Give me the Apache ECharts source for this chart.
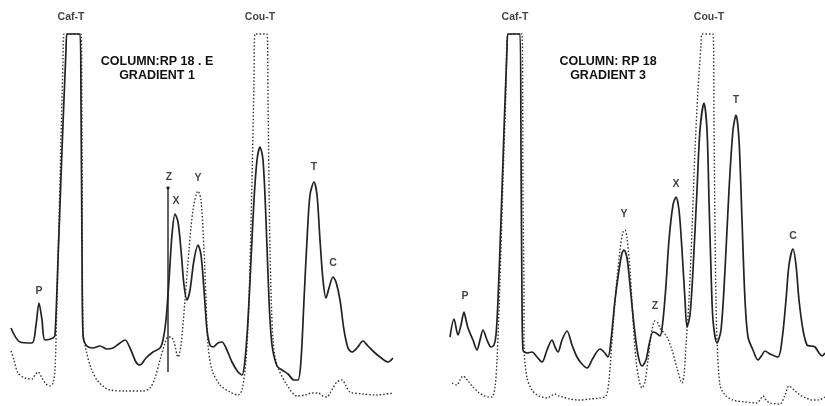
<!DOCTYPE html>
<html lang="en">
<head>
  <meta charset="UTF-8">
  <script src="https://cdn.jsdelivr.net/npm/echarts@6/dist/echarts.min.js"></script>
  <style>
    html, body { margin: 0; padding: 0; background: #fff; }
    #container { width: 825px; height: 406px; }
  </style>
</head>
<body>
  <div id="container"></div>
  <script>
    // retention (arbitrary scan units) vs. detector response
    var grad1Solid = [
      [11,72],[20,58],[32,57],[36,75],[39,97],[42,80],[45,60],[53,62],[55,65],[58,140],[62,250],[66,350],[67,366],
      [80,366],[81,300],[82,150],[83,65],[86,55],[93,52],[100,54],[107,51],[113,52],[120,57],[125,60],[130,52],
      [136,38],[140,35],[146,42],[153,48],[160,52],[163,60],[166,80],[169,120],[172,165],[175,186],[178,178],
      [181,150],[184,115],[187,100],[190,110],[194,140],[198,155],[201,145],[204,110],[207,70],[210,55],[213,53],
      [218,57],[222,58],[226,52],[232,38],[238,28],[242,25],[245,40],[248,80],[251,140],[254,200],[257,240],
      [260,253],[263,240],[266,180],[269,100],[272,55],[277,34],[282,30],[288,26],[294,20],[298,20],[301,40],
      [304,100],[307,160],[310,205],[314,218],[317,205],[320,160],[323,120],[326,102],[329,112],[333,123],
      [336,118],[340,100],[344,70],[348,52],[352,48],[357,52],[363,59],[368,54],[374,48],[380,43],[388,38],[393,42]
    ];
    var grad1Dotted = [
      [11,49],[14,40],[18,27],[25,22],[32,21],[35,25],[38,28],[42,22],[46,16],[50,14],[53,17],[55,30],[57,100],
      [60,220],[63,340],[64,366],[81,366],[82,250],[83,70],[86,50],[91,32],[97,20],[104,13],[110,10],[125,9],
      [143,9],[150,12],[155,22],[160,40],[165,57],[168,63],[171,63],[174,58],[178,43],[181,55],[185,100],
      [189,150],[193,190],[198,209],[201,200],[204,150],[206,100],[208,55],[212,30],[220,15],[230,8],[238,5],
      [242,10],[246,40],[249,100],[252,220],[254,320],[255,366],[267,366],[268,300],[270,150],[273,60],[277,35],
      [287,15],[297,4],[305,5],[312,7],[318,7],[323,4],[327,3],[330,7],[333,12],[337,18],[342,20],[346,14],
      [350,8],[363,6],[377,5],[393,7]
    ];
    var grad3Solid = [
      [38,63],[42,81],[46,65],[49,75],[52,88],[54,80],[56,72],[61,60],[65,50],[68,60],[71,70],[75,60],[79,53],
      [82,55],[84,65],[86,100],[89,180],[92,270],[95,350],[96,366],[108,366],[109,250],[110,100],[111,50],
      [115,47],[120,48],[125,43],[130,38],[135,50],[140,60],[143,53],[146,48],[150,60],[155,69],[160,55],
      [165,43],[170,36],[175,32],[181,42],[188,51],[192,48],[196,43],[199,60],[203,100],[207,130],[210,147],
      [212,150],[215,142],[218,115],[222,75],[226,45],[230,34],[234,40],[237,55],[241,68],[244,67],[248,64],
      [251,80],[254,115],[257,160],[261,195],[264,203],[267,190],[270,150],[273,100],[275,73],[278,85],
      [281,130],[285,210],[288,270],[292,297],[295,270],[297,200],[299,130],[301,80],[305,57],[309,70],
      [313,130],[317,210],[321,270],[324,285],[327,260],[330,180],[333,100],[336,63],[341,50],[346,40],
      [350,45],[353,49],[358,46],[366,43],[370,60],[374,100],[377,135],[381,151],[384,135],[387,100],[391,70],
      [395,55],[399,54],[403,53],[407,47],[410,44],[413,47]
    ];
    var grad3Dotted = [
      [40,17],[45,15],[48,20],[51,24],[56,19],[61,13],[66,8],[71,5],[76,3],[80,3],[83,13],[85,40],[88,120],
      [91,220],[94,310],[96,366],[110,366],[111,200],[112,100],[112,55],[115,22],[120,10],[125,5],[130,3],
      [135,2],[139,4],[143,6],[147,4],[151,3],[158,1],[168,0],[178,1],[188,2],[194,4],[197,20],[200,60],
      [204,110],[208,150],[211,168],[213,170],[215,162],[218,130],[221,80],[224,40],[227,20],[230,12],[233,18],
      [236,40],[239,65],[243,79],[246,77],[248,72],[255,63],[260,50],[265,32],[270,17],[272,25],[274,55],
      [277,100],[280,170],[283,250],[286,310],[289,355],[290,366],[301,366],[302,280],[303,170],[304,100],
      [305,60],[308,15],[313,5],[321,0],[333,-2],[345,-3],[348,0],[351,4],[354,0],[358,-3],[368,-4],[373,5],
      [377,14],[382,10],[388,5],[394,2],[400,0],[406,0],[413,3]
    ];
    // peak names and where they sit
    var grad1Peaks = [['Caf-T',71,383],['Cou-T',260,383],['P',39,109],['Z',169,223],['X',176,199],['Y',198,222],['T',314,233],['C',333,137]];
    var grad3Peaks = [['Caf-T',103,383],['Cou-T',297,383],['P',53,104],['Y',212,186],['Z',243,94],['X',264,216],['T',324,300],['C',381,164]];
    // injection marker Z in gradient 1
    var zMarker = [[168,212],[168,28]];
    var panelTitles = ['COLUMN:RP 18 . E\nGRADIENT 1', 'COLUMN: RP 18\nGRADIENT 3'];

    var myChart = echarts.init(document.getElementById('container'));

    var solidStyle = { color: '#222', width: 1.7 };
    var dotStyle = { color: '#333', width: 1.4, type: [1.5, 2] };
    var labelFont = { fontFamily: 'Liberation Sans', fontWeight: 'bold', color: '#111' };

    function trace(data, idx, style) {
      return {
        type: 'line', xAxisIndex: idx, yAxisIndex: idx, data: data,
        showSymbol: false, smooth: 0.3, lineStyle: style, silent: true, z: 2
      };
    }
    function peakLabels(list, idx) {
      return {
        type: 'scatter', xAxisIndex: idx, yAxisIndex: idx, symbolSize: 0, silent: true, z: 5,
        data: list.map(function (p) { return { value: [p[1], p[2]], name: p[0] }; }),
        label: Object.assign({ show: true, position: 'inside', formatter: '{b}', fontSize: 10.5 }, labelFont)
      };
    }

    var option = {
      animation: false,
      backgroundColor: '#fff',
      title: [
        { text: panelTitles[0], left: 152, top: 50, textAlign: 'center',
          textStyle: Object.assign({ fontSize: 12.5, lineHeight: 14 }, labelFont) },
        { text: panelTitles[1], left: 603, top: 50, textAlign: 'center',
          textStyle: Object.assign({ fontSize: 12.5, lineHeight: 14 }, labelFont) }
      ],
      grid: [
        { left: 0, top: 0, width: 412, height: 406 },
        { left: 412, top: 0, width: 413, height: 406 }
      ],
      xAxis: [
        { type: 'value', gridIndex: 0, min: 0, max: 412, show: false },
        { type: 'value', gridIndex: 1, min: 0, max: 413, show: false }
      ],
      yAxis: [
        { type: 'value', gridIndex: 0, min: -6, max: 400, show: false },
        { type: 'value', gridIndex: 1, min: -6, max: 400, show: false }
      ],
      series: [
        trace(grad1Dotted, 0, dotStyle),
        trace(grad1Solid, 0, solidStyle),
        {
          type: 'line', xAxisIndex: 0, yAxisIndex: 0, silent: true, showSymbol: true,
          data: [
            { value: zMarker[0], symbol: 'diamond', symbolSize: 4 },
            { value: zMarker[1], symbol: 'none' }
          ],
          itemStyle: { color: '#222' }, lineStyle: { color: '#222', width: 1.4 }
        },
        peakLabels(grad1Peaks, 0),
        trace(grad3Dotted, 1, dotStyle),
        trace(grad3Solid, 1, solidStyle),
        peakLabels(grad3Peaks, 1)
      ]
    };
    myChart.setOption(option);
  </script>
</body>
</html>
